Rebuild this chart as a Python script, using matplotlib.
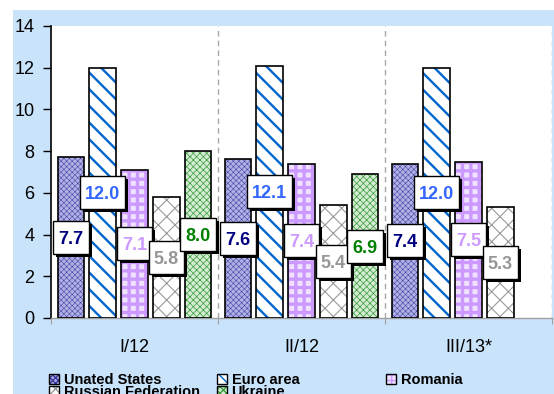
import numpy as np
import matplotlib
matplotlib.use("Agg")
import matplotlib.pyplot as plt
from matplotlib.patches import Rectangle, Patch
from matplotlib.transforms import IdentityTransform, ScaledTranslation
from matplotlib.legend_handler import HandlerTuple

plt.rcParams['font.family'] = ['Liberation Sans', 'DejaVu Sans']

# ---- data -------------------------------------------------------------
periods = ["I/12", "II/12", "III/13*"]
series_names = ["Unated States", "Euro area", "Romania", "Russian Federation", "Ukraine"]
united_states = [7.7, 7.6, 7.4]
euro_area = [12.0, 12.1, 12.0]
romania = [7.1, 7.4, 7.5]
russia = [5.8, 5.4, 5.3]
ukraine = [8.0, 6.9, np.nan]
y_ticks = [0, 2, 4, 6, 8, 10, 12, 14]

values = [united_states, euro_area, romania, russia, ukraine]

# ---- styles -------------------------------------------------------------
styles = [
    dict(face="#b0b0e4", hatch="xxxxxx", hcolor="#3a3aa0", hlw=0.35, text="#000080",
         key_hatch="xxxxxx"),
    dict(face="white", hatch="\\\\", hcolor="#0066cc", hlw=1.7, text="#3366ff",
         key_hatch="\\\\\\"),
    dict(face="#f0e2ff", hatch="++", hcolor="#cc99ff", hlw=2.4, text="#cc99ff",
         key_hatch="+++"),
    dict(face="white", hatch="xx", hcolor="#9a9a9a", hlw=0.8, text="#969696",
         key_hatch="xxx"),
    dict(face="#d3ecd3", hatch="xxxxx", hcolor="#3a9a3a", hlw=0.5, text="#008000",
         key_hatch="xxxxx"),
]
offsets = [-0.38, -0.19, 0.0, 0.19, 0.38]
bar_width = 0.16
label_size = 13

W, H = 554, 394
fig = plt.figure(figsize=(W / 100, H / 100), dpi=100)
fig.patch.set_facecolor("white")
# light blue chart-area background
fig.add_artist(Rectangle((13 / W, 0), 1 - 13 / W, 1 - 10 / H,
                         transform=fig.transFigure, facecolor="#c9e3fb",
                         edgecolor="none", zorder=-10))

ax = fig.add_axes([51 / W, 1 - 318 / H, 501 / W, 292 / H])
ax.set_facecolor("white")

x = np.arange(len(periods))


def set_hatch_lw(patch, lw):
    if hasattr(patch, "set_hatch_linewidth"):
        patch.set_hatch_linewidth(lw)
    else:
        patch._hatch_linewidth = lw


legend_handles = []
for vals, st, off in zip(values, styles, offsets):
    vals = np.asarray(vals, dtype=float)
    with plt.rc_context({"hatch.linewidth": st["hlw"]}):
        bars = ax.bar(x + off, vals, width=bar_width, color=st["face"],
                      edgecolor=st["hcolor"], hatch=st["hatch"], linewidth=0,
                      zorder=2)
        for b in bars:
            set_hatch_lw(b, st["hlw"])
        fill = Patch(facecolor=st["face"], edgecolor=st["hcolor"],
                     hatch=st["key_hatch"], linewidth=0)
        set_hatch_lw(fill, min(st["hlw"], 1.2))
    ax.bar(x + off, vals, width=bar_width, fill=False, edgecolor="black",
           linewidth=1.2, zorder=3)
    outline = Patch(facecolor="none", edgecolor="black", linewidth=1.0)
    legend_handles.append((fill, outline))

# value labels, written at half the bar height
label_texts = []
shift_down = ScaledTranslation(0, -0.716 * label_size / 2 / 72, fig.dpi_scale_trans)
for vals, st, off in zip(values, styles, offsets):
    for xi, v in zip(x, vals):
        if np.isnan(v):
            continue
        t = ax.text(xi + off, v / 2, f"{v:.1f}", ha="center", va="baseline",
                    fontsize=label_size, fontweight="bold", color=st["text"],
                    zorder=6, transform=ax.transData + shift_down)
        label_texts.append((t, xi + off, v / 2))

# ---- axes -------------------------------------------------------------
ax.set_xlim(-0.5, len(periods) - 0.5)
ax.set_ylim(0, 14)
ax.set_yticks(y_ticks)
ax.tick_params(axis="y", direction="out", length=6, width=1, labelsize=13, pad=6,
               colors="black")

boundaries = np.arange(len(periods) + 1) - 0.5
ax.set_xticks(boundaries)
ax.set_xticklabels([])
ax.tick_params(axis="x", which="major", direction="out", length=4, color="#a0a0a0")
ax.set_xticks(x, minor=True)
ax.set_xticklabels(periods, minor=True, fontsize=13)
ax.tick_params(axis="x", which="minor", length=0, pad=15)

for b in boundaries[1:]:
    ax.axvline(b, color="#a8a8a8", linestyle=(0, (4, 3)), linewidth=1, zorder=1)

for side in ("top", "right"):
    ax.spines[side].set_visible(False)
ax.spines["left"].set_color("black")
ax.spines["left"].set_linewidth(1.2)
ax.spines["bottom"].set_color("#a0a0a0")
ax.spines["bottom"].set_linewidth(1)

# ---- white label boxes with a black drop shadow --------------------------
fig.canvas.draw()
renderer = fig.canvas.get_renderer()
box_h = 33
shadow = 3
for t, xd, yd in label_texts:
    ext = t.get_window_extent(renderer)
    cx, cy = ax.transData.transform((xd, yd))
    bw = ext.width + 10
    x0, y0 = cx - bw / 2, cy - box_h / 2
    ax.add_patch(Rectangle((x0 + shadow, y0 - shadow), bw, box_h,
                           transform=IdentityTransform(), facecolor="black",
                           edgecolor="none", zorder=4, clip_on=False))
    ax.add_patch(Rectangle((x0, y0), bw, box_h, transform=IdentityTransform(),
                           facecolor="white", edgecolor="black", linewidth=1.0,
                           zorder=5, clip_on=False))

# ---- legend (three columns placed under the category bands) --------------
columns = [[0, 3], [1, 4], [2]]
col_left = [49, 217, 386]
for idx, left in zip(columns, col_left):
    fig.legend([legend_handles[i] for i in idx], [series_names[i] for i in idx],
               handler_map={tuple: HandlerTuple(ndivide=1, pad=0)},
               loc="upper left", bbox_to_anchor=(left / W, 1 - 373 / H),
               bbox_transform=fig.transFigure, frameon=False, ncol=1,
               prop=dict(size=10.5, weight="bold"), handlelength=0.7,
               handleheight=0.7, handletextpad=0.3, labelspacing=-0.12,
               borderpad=0, borderaxespad=0)

fig.savefig("out.png", dpi=100)
